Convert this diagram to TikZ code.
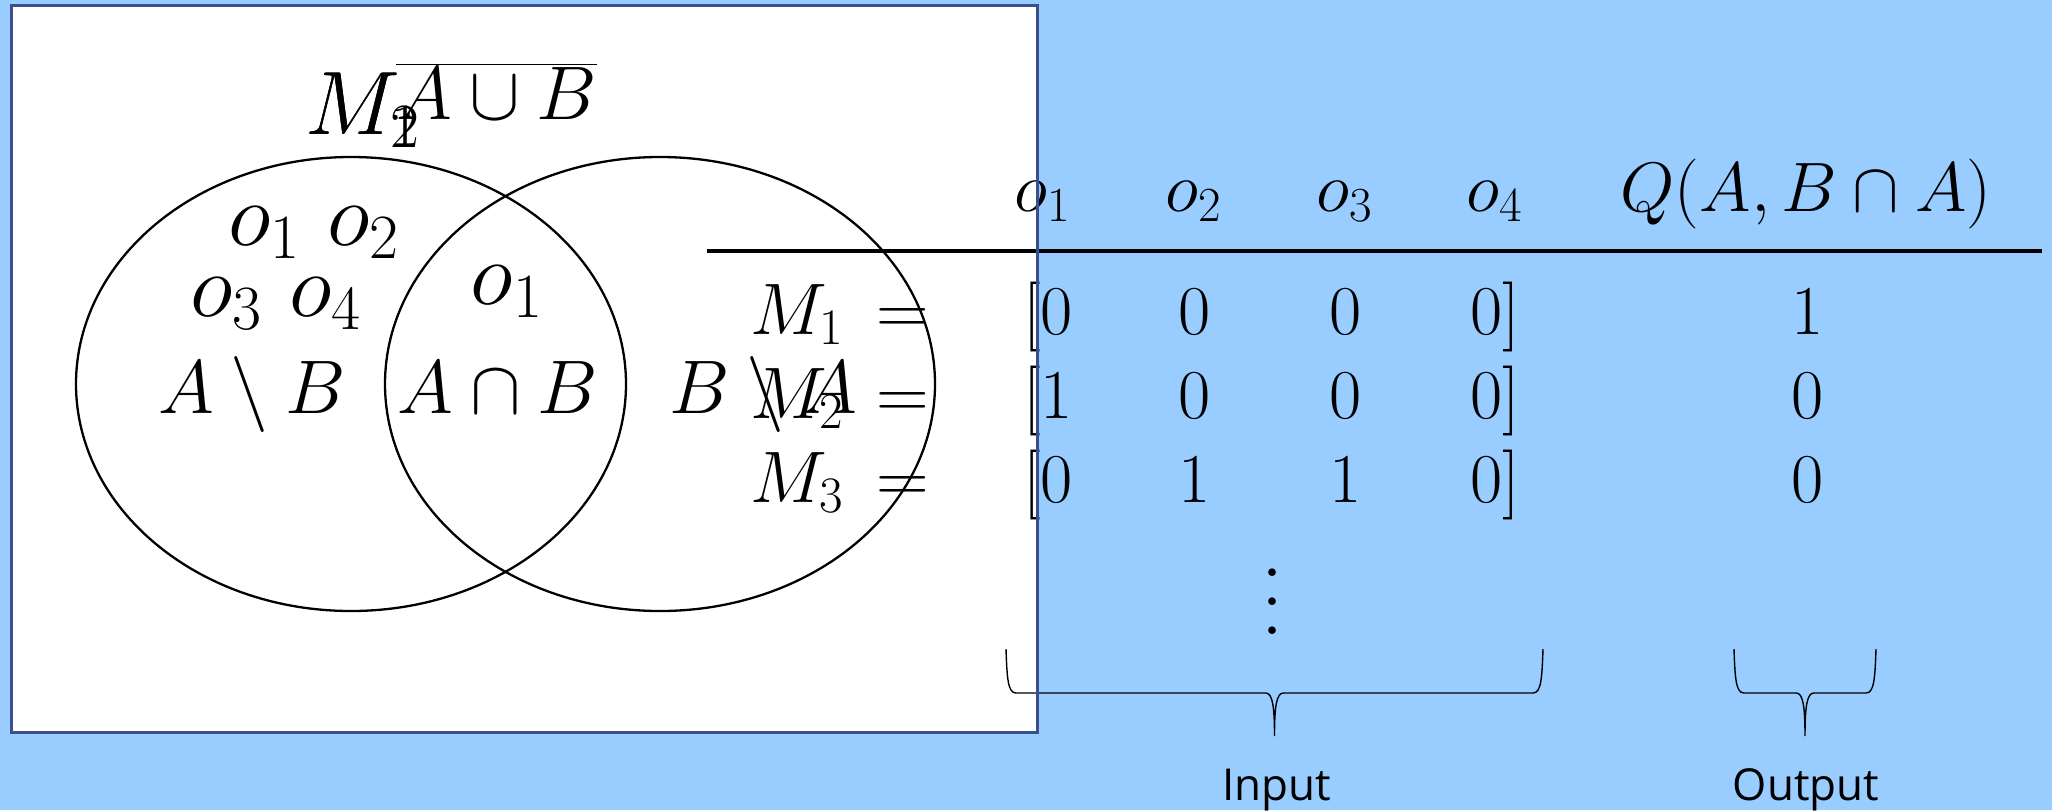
\RequirePackage{fix-cm}
\documentclass[tikz,border=0pt]{standalone}
\usepackage{fontspec}
\newfontfamily\osans{Open Sans}
\usepackage{graphicx}
\usetikzlibrary{shapes.geometric,calc}
\definecolor{bgblue}{RGB}{153,204,255}
\definecolor{panelline}{RGB}{58,80,140}
\newcommand\bracedraw[3]{%
  \draw[bracestyle] (#1) .. controls ($(#1)+(1,30)$) and ($(#1)+(2,44)$) .. ($(#1)+(10,44)$)
    -- ($(#3)+(-9,-43)$) .. controls ($(#3)+(-2,-43)$) and ($(#3)+(0,-30)$) .. (#3)
    .. controls ($(#3)+(0,-30)$) and ($(#3)+(2,-43)$) .. ($(#3)+(9,-43)$)
    -- ($(#2)+(-10,44)$) .. controls ($(#2)+(-2,44)$) and ($(#2)+(-1,30)$) .. (#2);}
\begin{document}
\begin{tikzpicture}[x=0.5pt,y=-0.5pt,
  lbl/.style={inner sep=0pt, anchor=base},
  big/.style={lbl, font=\fontsize{45}{50}\selectfont},
  mid/.style={lbl, font=\fontsize{38}{42}\selectfont},
  tab/.style={lbl, font=\fontsize{35}{38}\selectfont},
  rowlbl/.style={lbl, anchor=base east, font=\fontsize{36.5}{40}\selectfont},
  sanslbl/.style={lbl, font=\fontsize{22}{26}\selectfont\osans},
  setring/.style={draw, ellipse, line width=1.15pt, minimum width=275pt, minimum height=227pt, inner sep=0pt},
  panel/.style={fill=white, minimum width=513pt, minimum height=363.2pt, inner sep=0pt},
  rulestyle/.style={line width=1.8pt},
  bracestyle/.style={line width=0.7pt},
  borderstyle/.style={draw=panelline, line width=1.5pt}]
\useasboundingbox (0,0) rectangle (2052,810);
\fill[bgblue] (0,0) rectangle (2052,810);
\node[panel] (panel) at (524.5,368.9) {};
% Venn diagram
\node[setring] (setA) at (351,384) {};
\node[setring] (setB) at (660,384) {};
\node[big, anchor=base west] (mOne) at (305,134) {$M_1$};
\node[big, anchor=base west] (mTwo) at (305,134) {$M_2$};
\node[mid, anchor=base west] (comp) at (396,119) {$\overline{A\cup B}$};
\node[big] (oa) at (314,245) {$o_1$ $o_2$};
\node[big] (ob) at (276,316) {$o_3$ $o_4$};
\node[big] (oc) at (507,304) {$o_1$};
\node[mid] (amb) at (252,413) {$A\setminus B$};
\node[mid] (anb) at (498,413) {$A\cap B$};
\node[mid] (bma) at (763,413) {$B\setminus A$};
% table header
\node[tab] (h1) at (1043,211) {$o_1$};
\node[tab] (h2) at (1194,211) {$o_2$};
\node[tab] (h3) at (1345,211) {$o_3$};
\node[tab] (h4) at (1495,211) {$o_4$};
\node[tab] (hq) at (1806,211) {$Q(A,B\cap A)$};
\coordinate (ruleL) at (707,251);
\coordinate (ruleR) at (2042,251);
\draw[rulestyle] (ruleL) -- (ruleR);
% rows
\node[rowlbl] (r1l) at (929,334) {$M_1\mkern3mu=$};
\node[tab, anchor=base east] (r1a) at (1073,334) {$[0$};
\node[tab] (r1b) at (1195,334) {$0$};
\node[tab] (r1c) at (1346,334) {$0$};
\node[tab, anchor=base west] (r1d) at (1470.5,334) {$0]$};
\node[tab] (r1q) at (1808,334) {$1$};
\node[rowlbl] (r2l) at (929,418) {$M_2\mkern3mu=$};
\node[tab, anchor=base east] (r2a) at (1073,418) {$[1$};
\node[tab] (r2b) at (1195,418) {$0$};
\node[tab] (r2c) at (1346,418) {$0$};
\node[tab, anchor=base west] (r2d) at (1470.5,418) {$0]$};
\node[tab] (r2q) at (1808,418) {$0$};
\node[rowlbl] (r3l) at (929,502) {$M_3\mkern3mu=$};
\node[tab, anchor=base east] (r3a) at (1073,502) {$[0$};
\node[tab] (r3b) at (1195,502) {$1$};
\node[tab] (r3c) at (1346,502) {$1$};
\node[tab, anchor=base west] (r3d) at (1470.5,502) {$0]$};
\node[tab] (r3q) at (1808,502) {$0$};
\node[lbl] (dots) at (1272,634) {\scalebox{3.6}{$\vdots$}};
% braces
\coordinate (inL) at (1006,649);
\coordinate (inR) at (1543,649);
\coordinate (inT) at (1274.5,736);
\coordinate (outL) at (1734,649);
\coordinate (outR) at (1876,649);
\coordinate (outT) at (1805,736);
\bracedraw{inL}{inR}{inT}
\bracedraw{outL}{outR}{outT}
\node[sanslbl] (inlbl) at (1276.5,800) {Input};
\node[sanslbl] (outlbl) at (1806,800) {Output};
% panel border on top
\draw[borderstyle] (panel.north west) rectangle (panel.south east);
\end{tikzpicture}
\end{document}
